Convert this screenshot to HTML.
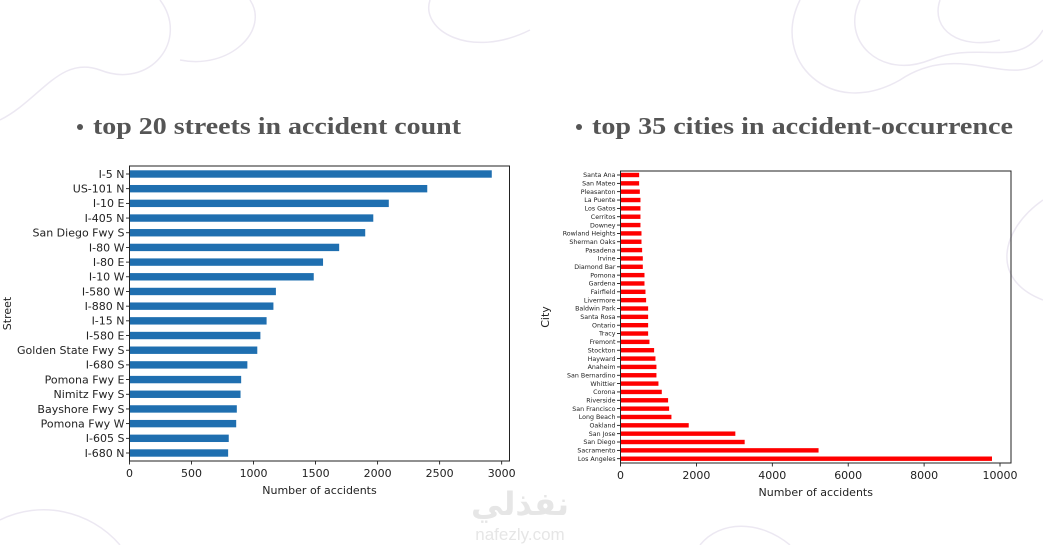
<!DOCTYPE html>
<html><head><meta charset="utf-8"><style>
html,body{margin:0;padding:0;background:#fff;}
svg{display:block;}
</style></head><body>
<svg id="s" width="1043" height="545" xmlns="http://www.w3.org/2000/svg">
<g fill="none" stroke="#ece8f2" stroke-width="1.5">
<path d="M160 0 C190 40 150 90 100 70 C60 55 40 100 0 120"/>
<path d="M250 0 C270 30 230 70 180 60"/>
<path d="M430 0 C420 30 470 60 530 30"/>
<path d="M800 0 C770 60 830 120 900 80 C960 40 1010 90 1043 60"/>
<path d="M860 0 C840 40 880 80 930 60 C980 40 1020 70 1043 30"/>
<path d="M940 0 C930 30 960 50 1000 40"/>
<path d="M1043 200 C1000 230 990 280 1043 300"/>
<path d="M0 520 C40 500 90 510 120 545"/>
<path d="M700 545 C720 520 760 520 790 545"/>
</g>
<g fill="#e6e6e6" font-family="'Liberation Sans','DejaVu Sans',sans-serif">
<text x="520" y="515" font-size="32" font-weight="bold" text-anchor="middle" font-family="'DejaVu Sans',sans-serif">نفذلي</text>
<text x="520" y="540" font-size="17" text-anchor="middle">nafezly.com</text>
</g>
<g fill="#555" font-family="'Liberation Serif',serif" font-weight="bold">
<circle cx="80" cy="127" r="3" fill="#555"/>
<text x="93" y="134" font-size="24" textLength="368" lengthAdjust="spacingAndGlyphs">top 20 streets in accident count</text>
</g>
<g fill="#555" font-family="'Liberation Serif',serif" font-weight="bold">
<circle cx="579" cy="127" r="3" fill="#555"/>
<text x="592" y="134" font-size="24" textLength="421" lengthAdjust="spacingAndGlyphs">top 35 cities in accident-occurrence</text>
</g>
<g id="left"></g>
<g id="right"></g>
</svg>
<script>
const streetNames = ["I-5 N","US-101 N","I-10 E","I-405 N","San Diego Fwy S","I-80 W","I-80 E","I-10 W","I-580 W","I-880 N","I-15 N","I-580 E","Golden State Fwy S","I-680 S","Pomona Fwy E","Nimitz Fwy S","Bayshore Fwy S","Pomona Fwy W","I-605 S","I-680 N"];
const streetCounts = [2920,2400,2090,1965,1900,1690,1560,1485,1180,1160,1105,1055,1030,950,900,895,865,860,800,795];
const streetTicks = [0,500,1000,1500,2000,2500,3000];
const cityNames = ["Santa Ana","San Mateo","Pleasanton","La Puente","Los Gatos","Cerritos","Downey","Rowland Heights","Sherman Oaks","Pasadena","Irvine","Diamond Bar","Pomona","Gardena","Fairfield","Livermore","Baldwin Park","Santa Rosa","Ontario","Tracy","Fremont","Stockton","Hayward","Anaheim","San Bernardino","Whittier","Corona","Riverside","San Francisco","Long Beach","Oakland","San Jose","San Diego","Sacramento","Los Angeles"];
const cityCounts = [491,491,509,526,526,526,526,553,553,570,588,588,632,632,658,675,728,728,728,728,763,886,921,947,947,1000,1088,1254,1281,1342,1798,3026,3272,5219,9789];
const cityTicks = [0,2000,4000,6000,8000,10000];
const NS='http://www.w3.org/2000/svg';
function mk(p,tag,attrs,txt){const e=document.createElementNS(NS,tag);for(const k in attrs)e.setAttribute(k,attrs[k]);if(txt!==undefined)e.textContent=txt;p.appendChild(e);return e;}
function chart(g,cfg){
  const {L,R,T,B,x0,xPerUnit,y0,step,bh,names,vals,ticks,color,fs,tfs,ylab,ylx,prefix}=cfg;
  const X=v=>x0+v*xPerUnit;
  const Y=i=>y0+i*step;
  names.forEach((n,i)=>{
    const r=mk(g,'rect',{x:X(0),y:Y(i)-bh/2,width:X(vals[i])-X(0),height:bh,fill:color});
    
    
    mk(g,'line',{x1:L-3.5,x2:L,y1:Y(i),y2:Y(i),stroke:'#000','stroke-width':0.8});
    const t=mk(g,'text',{x:L-5,y:Y(i)+fs*0.35,'font-size':fs,'text-anchor':'end',fill:'#222'},n);
    
    
  });
  ticks.forEach(v=>{
    mk(g,'line',{x1:X(v),x2:X(v),y1:B,y2:B+3.5,stroke:'#000','stroke-width':0.8});
    const t=mk(g,'text',{x:X(v),y:B+16,'font-size':tfs,'text-anchor':'middle',fill:'#222'},String(v));
    
    
  });
  const f=mk(g,'rect',{x:L,y:T,width:R-L,height:B-T,fill:'none',stroke:'#222','stroke-width':1});
  
  
  const xl=mk(g,'text',{x:(L+R)/2,y:B+33,'font-size':11,'text-anchor':'middle',fill:'#222'},'Number of accidents');
  
  
  const yl=mk(g,'text',{x:ylx,y:(T+B)/2,'font-size':11,'text-anchor':'middle',fill:'#222',transform:`rotate(-90 ${ylx} ${(T+B)/2})`},ylab);
  
  
}
const lg=document.getElementById('left');
lg.setAttribute('font-family',"'DejaVu Sans',sans-serif");
chart(lg,{L:129.5,R:509.5,T:166,B:461,x0:129.5,xPerUnit:(501.7-129.5)/3000,y0:174,step:(453-174)/19,bh:7.4,names:streetNames,vals:streetCounts,ticks:streetTicks,color:'#1f6fb0',fs:11,tfs:11,ylab:'Street',ylx:11,prefix:'street'});
const rg=document.getElementById('right');
rg.setAttribute('font-family',"'DejaVu Sans',sans-serif");
chart(rg,{L:620.5,R:1011,T:171,B:463,x0:620.5,xPerUnit:(1000-620.5)/10000,y0:175,step:(458.7-175)/34,bh:4.4,names:cityNames,vals:cityCounts,ticks:cityTicks,color:'#ff0000',fs:6.3,tfs:11,ylab:'City',ylx:549,prefix:'city'});
</script>
</body></html>
